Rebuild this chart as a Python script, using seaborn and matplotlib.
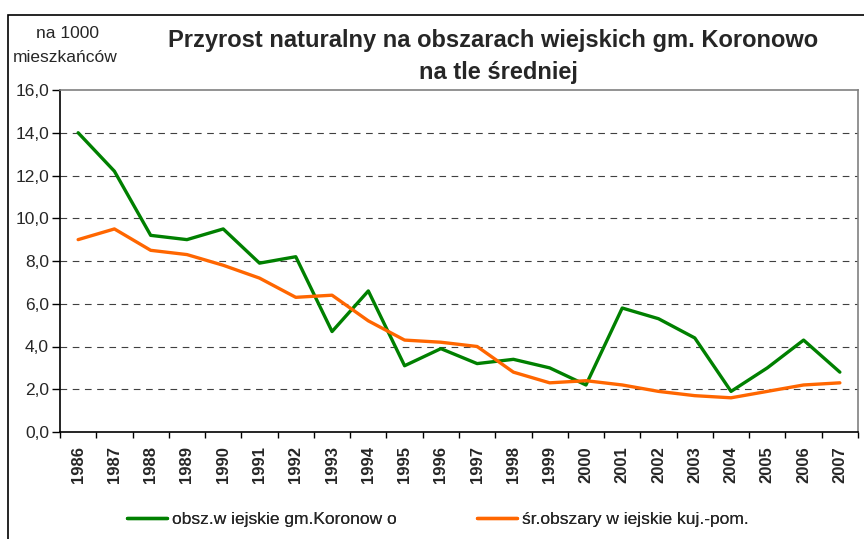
import matplotlib
matplotlib.use("Agg")
import matplotlib.pyplot as plt
import matplotlib.patches as mpatches
from matplotlib.lines import Line2D
import seaborn as sns
import pandas as pd
import numpy as np

years = [str(y) for y in range(1986, 2008)]
koronowo = [14.0, 12.2, 9.2, 9.0, 9.5, 7.9, 8.2, 4.7, 6.6, 3.1, 3.9, 3.2,
            3.4, 3.0, 2.2, 5.8, 5.3, 4.4, 1.9, 3.0, 4.3, 2.8]
kujpom = [9.0, 9.5, 8.5, 8.3, 7.8, 7.2, 6.3, 6.4, 5.2, 4.3, 4.2, 4.0,
          2.8, 2.3, 2.4, 2.2, 1.9, 1.7, 1.6, 1.9, 2.2, 2.3]
series_names = ["obsz.w iejskie gm.Koronow o", "śr.obszary w iejskie kuj.-pom."]
colors = ["#008000", "#FF6600"]
yticks = [0, 2, 4, 6, 8, 10, 12, 14, 16]

sns.set_theme(style="white")
plt.rcParams['font.family'] = ['Liberation Sans', 'DejaVu Sans']

df = pd.DataFrame({
    "idx": list(range(len(years))) * 2,
    "value": koronowo + kujpom,
    "series": [series_names[0]] * len(years) + [series_names[1]] * len(years),
})

fig = plt.figure(figsize=(8.64, 5.39), dpi=100)
ax = fig.add_axes([60/864, 1-432/539, (858-60)/864, (432-90)/539])

sns.lineplot(data=df, x="idx", y="value", hue="series", palette=colors,
             linewidth=2.4, ax=ax, legend=False, sort=False)

ax.set_xlim(-0.5, len(years) - 0.5)
ax.set_ylim(0, 16)
ax.set_xlabel("")
ax.set_ylabel("")
ax.set_yticks(yticks)
ax.set_yticklabels([f"{v:.1f}".replace(".", ",") for v in yticks], fontsize=12.5)
ax.set_xticks(np.arange(len(years)))
ax.set_xticklabels(years, rotation=90, fontsize=12, fontweight="bold")
ax.set_xticks(np.arange(len(years) + 1) - 0.5, minor=True)
ax.tick_params(axis="x", which="major", length=0, pad=10)
ax.tick_params(axis="x", which="minor", length=4, width=1, color="black", direction="out", bottom=True)
ax.tick_params(axis="y", which="major", length=6, width=1, color="black", direction="out", left=True, pad=2)

for v in yticks[1:-1]:
    ax.axhline(v, color="#404040", linestyle=(0, (6, 5)), linewidth=0.8, zorder=0)

for s in ["left", "bottom"]:
    ax.spines[s].set_color("black")
    ax.spines[s].set_linewidth(1.2)
for s in ["top", "right"]:
    ax.spines[s].set_color("#808080")
    ax.spines[s].set_linewidth(1.2)

# outer chart frame
fig.patches.append(mpatches.Rectangle((8/864, -0.01), 1.0, 1 - 15/539 + 0.01,
                                      transform=fig.transFigure, fill=False,
                                      edgecolor="black", linewidth=1.2))

fig.text(493/864, 1-41/539, "Przyrost naturalny na obszarach wiejskich gm. Koronowo",
         ha="center", va="center", fontsize=17, fontweight="bold")
fig.text(498/864, 1-73/539, "na tle średniej",
         ha="center", va="center", fontsize=17, fontweight="bold")
fig.text(68/864, 1-33/539, "na 1000", ha="center", va="center", fontsize=12.5)
fig.text(65/864, 1-58/539, "mieszkańców", ha="center", va="center", fontsize=12.5)

legend_x = [127/864, 477/864]
for name, c, lx in zip(series_names, colors, legend_x):
    h = Line2D([0], [0], color=c, linewidth=2.4)
    leg = fig.legend([h], [name], loc="center left", bbox_to_anchor=(lx, 1-519/539),
                     frameon=False, fontsize=12.5, handlelength=2.3,
                     handletextpad=0.3, borderpad=0, borderaxespad=0)
    fig.add_artist(leg)

fig.savefig("out.png", dpi=100)
